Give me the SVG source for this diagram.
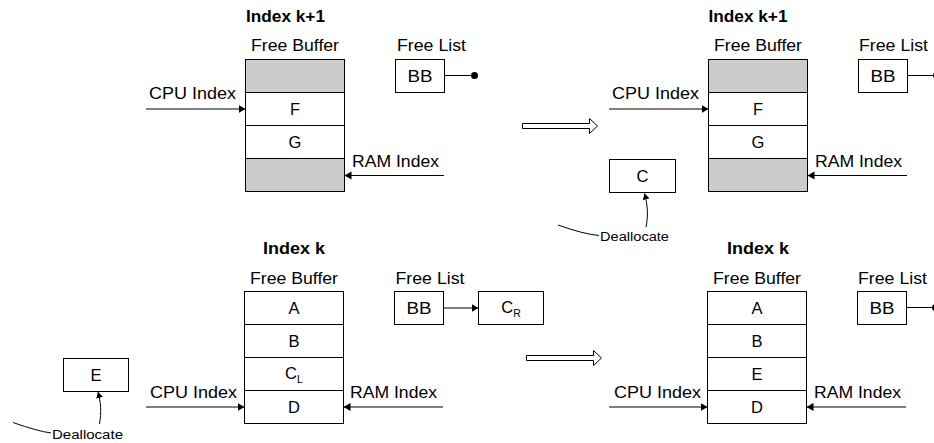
<svg xmlns="http://www.w3.org/2000/svg" width="934" height="443" viewBox="0 0 934 443">
<defs>
<style>
.t{font-family:"Liberation Sans",Arial,Helvetica,sans-serif;font-size:16.5px;fill:#000}
.b{font-weight:bold;font-size:16px}
.s{font-size:12.5px}
.c{text-anchor:middle}
.box{fill:#fff;stroke:#000;stroke-width:1}
.grey{fill:#cccccc;stroke:#000;stroke-width:1}
.ln{stroke:#000;stroke-width:1;fill:none}
.hollow{fill:#fff;stroke:#000;stroke-width:1}
</style>
<marker id="ah" markerUnits="userSpaceOnUse" markerWidth="8" markerHeight="9" refX="7" refY="4.5" orient="auto">
<path d="M0,0.5 L7,4.5 L0,8.5 z" fill="#000"/>
</marker>
<marker id="ahs" markerUnits="userSpaceOnUse" markerWidth="7" markerHeight="7" refX="6" refY="3.5" orient="auto">
<path d="M0,0 L6,3.5 L0,7 z" fill="#000"/>
</marker>
</defs>
<rect width="934" height="443" fill="#fff"/>

<!-- Labels -->
<g id="labels">
<text class="t b" x="246" y="22" textLength="79" lengthAdjust="spacingAndGlyphs">Index k+1</text>
<text class="t" x="251" y="51" textLength="88" lengthAdjust="spacingAndGlyphs">Free Buffer</text>
<text class="t" x="397" y="51" textLength="69" lengthAdjust="spacingAndGlyphs">Free List</text>
<text class="t" x="149" y="99" textLength="87" lengthAdjust="spacingAndGlyphs">CPU Index</text>
<text class="t" x="352" y="167" textLength="87" lengthAdjust="spacingAndGlyphs">RAM Index</text>

<text class="t b" x="708.5" y="22" textLength="79" lengthAdjust="spacingAndGlyphs">Index k+1</text>
<text class="t" x="714" y="51" textLength="88" lengthAdjust="spacingAndGlyphs">Free Buffer</text>
<text class="t" x="859" y="51" textLength="69" lengthAdjust="spacingAndGlyphs">Free List</text>
<text class="t" x="612" y="99" textLength="87" lengthAdjust="spacingAndGlyphs">CPU Index</text>
<text class="t" x="815" y="167" textLength="87" lengthAdjust="spacingAndGlyphs">RAM Index</text>
<text class="t s" x="600" y="240.5" textLength="69" lengthAdjust="spacingAndGlyphs">Deallocate</text>

<text class="t b" x="263" y="254" textLength="62" lengthAdjust="spacingAndGlyphs">Index k</text>
<text class="t" x="250" y="284" textLength="88" lengthAdjust="spacingAndGlyphs">Free Buffer</text>
<text class="t" x="395.5" y="284" textLength="69" lengthAdjust="spacingAndGlyphs">Free List</text>
<text class="t" x="150" y="397.5" textLength="87" lengthAdjust="spacingAndGlyphs">CPU Index</text>
<text class="t" x="350" y="398" textLength="87" lengthAdjust="spacingAndGlyphs">RAM Index</text>
<text class="t s" x="52" y="438.5" textLength="71" lengthAdjust="spacingAndGlyphs">Deallocate</text>

<text class="t b" x="727" y="254" textLength="62" lengthAdjust="spacingAndGlyphs">Index k</text>
<text class="t" x="713" y="284" textLength="88" lengthAdjust="spacingAndGlyphs">Free Buffer</text>
<text class="t" x="858" y="284" textLength="69" lengthAdjust="spacingAndGlyphs">Free List</text>
<text class="t" x="614" y="397.5" textLength="87" lengthAdjust="spacingAndGlyphs">CPU Index</text>
<text class="t" x="814" y="398" textLength="87" lengthAdjust="spacingAndGlyphs">RAM Index</text>
</g>

<!-- Top-left buffer -->
<g id="buffer-tl">
<rect class="grey" x="245.5" y="59.5" width="99" height="33"/>
<rect class="box" x="245.5" y="92.5" width="99" height="33"/>
<rect class="box" x="245.5" y="125.5" width="99" height="33"/>
<rect class="grey" x="245.5" y="158.5" width="99" height="33"/>
<text class="t c" x="295" y="115">F</text>
<text class="t c" x="295" y="148">G</text>
</g>
<g id="bb-tl">
<rect class="box" x="395.5" y="59.5" width="49" height="33"/>
<text class="t c" x="420" y="82" textLength="25" lengthAdjust="spacingAndGlyphs">BB</text>
</g>

<!-- Top-right buffer -->
<g id="buffer-tr">
<rect class="grey" x="708.5" y="59.5" width="99" height="33"/>
<rect class="box" x="708.5" y="92.5" width="99" height="33"/>
<rect class="box" x="708.5" y="125.5" width="99" height="33"/>
<rect class="grey" x="708.5" y="158.5" width="99" height="33"/>
<text class="t c" x="758" y="115">F</text>
<text class="t c" x="758" y="148">G</text>
</g>
<g id="bb-tr">
<rect class="box" x="858.5" y="59.5" width="49" height="33"/>
<text class="t c" x="883" y="82" textLength="25" lengthAdjust="spacingAndGlyphs">BB</text>
</g>
<g id="c-box">
<rect class="box" x="609.5" y="159.5" width="66" height="33"/>
<text class="t c" x="642.5" y="182">C</text>
</g>

<!-- Bottom-left buffer -->
<g id="buffer-bl">
<rect class="box" x="244.5" y="291.5" width="99" height="33"/>
<rect class="box" x="244.5" y="324.5" width="99" height="33"/>
<rect class="box" x="244.5" y="357.5" width="99" height="33"/>
<rect class="box" x="244.5" y="390.5" width="99" height="33"/>
<text class="t c" x="294" y="314">A</text>
<text class="t c" x="294" y="347">B</text>
<text class="t c" x="294" y="378.5">C<tspan font-size="10.5" dy="4">L</tspan></text>
<text class="t c" x="294" y="413">D</text>
</g>
<g id="bb-bl">
<rect class="box" x="394.5" y="291.5" width="49" height="33"/>
<text class="t c" x="419" y="314" textLength="25" lengthAdjust="spacingAndGlyphs">BB</text>
</g>
<g id="cr-box">
<rect class="box" x="478.5" y="291.5" width="65" height="33"/>
<text class="t c" x="511" y="312.5">C<tspan font-size="10.5" dy="4">R</tspan></text>
</g>
<g id="e-box">
<rect class="box" x="63.5" y="358.5" width="65" height="33"/>
<text class="t c" x="96" y="381">E</text>
</g>

<!-- Bottom-right buffer -->
<g id="buffer-br">
<rect class="box" x="707.5" y="291.5" width="99" height="33"/>
<rect class="box" x="707.5" y="324.5" width="99" height="33"/>
<rect class="box" x="707.5" y="357.5" width="99" height="33"/>
<rect class="box" x="707.5" y="390.5" width="99" height="33"/>
<text class="t c" x="757" y="314">A</text>
<text class="t c" x="757" y="347">B</text>
<text class="t c" x="757" y="380">E</text>
<text class="t c" x="757" y="413">D</text>
</g>
<g id="bb-br">
<rect class="box" x="857.5" y="291.5" width="49" height="33"/>
<text class="t c" x="882" y="314" textLength="25" lengthAdjust="spacingAndGlyphs">BB</text>
</g>

<!-- Transition arrows -->
<g id="transition-top">
<polygon class="hollow" points="522.5,123.5 589.5,123.5 589.5,118.5 597.5,126 589.5,133.5 589.5,128.5 522.5,128.5"/>
</g>
<g id="transition-bottom">
<polygon class="hollow" points="526.5,355.5 593.5,355.5 593.5,350.5 601.5,358 593.5,365.5 593.5,360.5 526.5,360.5"/>
</g>

<!-- Connectors -->
<g id="connectors">
<line class="ln" x1="146" y1="109" x2="245.5" y2="109" marker-end="url(#ah)"/>
<line class="ln" x1="444" y1="175.5" x2="344.5" y2="175.5" marker-end="url(#ah)"/>
<line class="ln" x1="444.5" y1="75.5" x2="474.5" y2="75.5"/>
<circle cx="474.5" cy="75.5" r="3.5" fill="#000"/>

<line class="ln" x1="609" y1="109" x2="708.5" y2="109" marker-end="url(#ah)"/>
<line class="ln" x1="907" y1="175.5" x2="807.5" y2="175.5" marker-end="url(#ah)"/>
<line class="ln" x1="907.5" y1="75.5" x2="936" y2="75.5"/>
<circle cx="936.5" cy="75.5" r="3.5" fill="#000"/>
<path class="ln" d="M646,227 C648.5,215 647.5,204 644.5,193.5" marker-end="url(#ahs)"/>
<path class="ln" d="M558,225 Q583,234 599,235.5"/>

<line class="ln" x1="146" y1="407" x2="244.5" y2="407" marker-end="url(#ah)"/>
<line class="ln" x1="443" y1="407" x2="343.5" y2="407" marker-end="url(#ah)"/>
<line class="ln" x1="443.5" y1="308" x2="478.5" y2="308" marker-end="url(#ah)"/>
<path class="ln" d="M99.5,424 C101.5,412 101,403 98,392" marker-end="url(#ahs)"/>
<path class="ln" d="M13,422.5 Q37,431 51,433"/>

<line class="ln" x1="609" y1="407" x2="707.5" y2="407" marker-end="url(#ah)"/>
<line class="ln" x1="906" y1="407" x2="806.5" y2="407" marker-end="url(#ah)"/>
<line class="ln" x1="906.5" y1="307.5" x2="934" y2="307.5"/>
<circle cx="935.5" cy="307.5" r="3.5" fill="#000"/>
</g>
</svg>
